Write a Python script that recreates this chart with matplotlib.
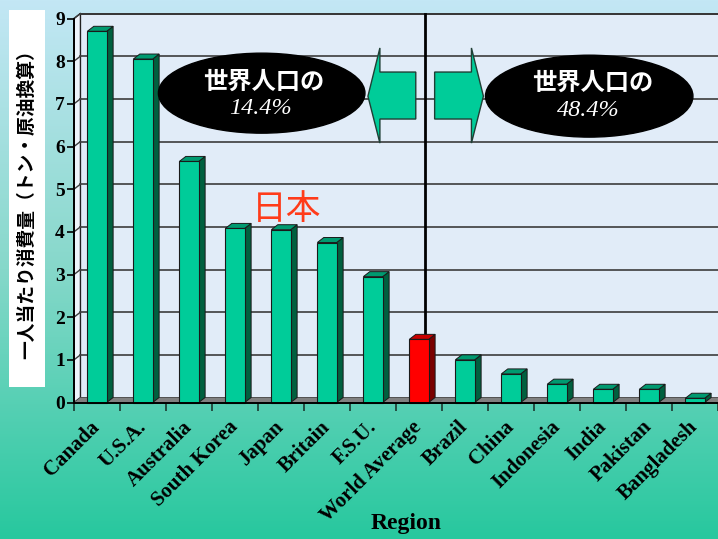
import numpy as np
import matplotlib
matplotlib.use("Agg")
import matplotlib.pyplot as plt
from matplotlib.patches import Polygon, Rectangle, Ellipse
from matplotlib.colors import LinearSegmentedColormap

# ---- data ----
regions = ["Canada", "U.S.A.", "Australia", "South Korea", "Japan", "Britain",
           "F.S.U.", "World Average", "Brazil", "China", "Indonesia", "India",
           "Pakistan", "Bangladesh"]
consumption = [8.7, 8.05, 5.65, 4.08, 4.05, 3.75, 2.95, 1.48, 1.0, 0.67,
               0.43, 0.31, 0.31, 0.1]
highlight = "World Average"
y_ticks = list(range(10))
y_label = "一人当たり消費量（トン・原油換算）"
x_label = "Region"
share_title = "世界人口の"
share_left = "14.4%"
share_right = "48.4%"
japan_note = "日本"

# ---- figure / fonts ----
W, H = 718, 539
fig = plt.figure(figsize=(W / 100, H / 100), dpi=100)
CJK = ["Noto Sans CJK JP", "DejaVu Sans"]
SERIF = "Liberation Serif"

# slide background: light blue at the top fading into teal green
bg = fig.add_axes([0, 0, 1, 1], zorder=0)
grad = np.linspace(0, 1, 256).reshape(-1, 1)
cmap = LinearSegmentedColormap.from_list("bg", ["#c3e7f5", "#86d8ca", "#27c89e"])
bg.imshow(grad, aspect="auto", cmap=cmap, extent=[0, 1, 0, 1], origin="upper")
bg.axis("off")

# ---- main axes (front plane of the 3-D chart) ----
ax_left, ax_bottom, ax_w, ax_h = 74, 136.5, 644, 384
ax = fig.add_axes([ax_left / W, ax_bottom / H, ax_w / W, ax_h / H], zorder=2)
SX = 46.3                      # pixels per category
SY = ax_h / 9.0                # pixels per unit
x0 = -0.5
x1 = x0 + ax_w / SX
ax.set_xlim(x0, x1)
ax.set_ylim(0, 9)
ax.patch.set_visible(False)
for s in ("top", "right"):
    ax.spines[s].set_visible(False)
for s in ("left", "bottom"):
    ax.spines[s].set_color("black")
    ax.spines[s].set_linewidth(1.4)
    ax.spines[s].set_zorder(6)

DX = 6.5 / SX                  # depth offset of the 3-D box
DY = 5.0 / SY

# back wall
ax.add_patch(Rectangle((x0 + DX, DY), (x1 + 1) - (x0 + DX), 9, facecolor="#e1ecf8",
                       edgecolor="#222222", lw=1.4, clip_on=False, zorder=0))
# side wall
ax.add_patch(Polygon([(x0, 0), (x0, 9), (x0 + DX, 9 + DY), (x0 + DX, DY)],
                     closed=True, facecolor="#eef4fb", edgecolor="#222222",
                     lw=1.0, clip_on=False, zorder=0.5))
# gridlines on back and side walls
for k in y_ticks[1:]:
    ax.plot([x0 + DX, x1 + 1], [k + DY, k + DY], color="#3c3c3c", lw=1.2,
            clip_on=False, zorder=1)
    ax.plot([x0, x0 + DX], [k, k + DY], color="#3c3c3c", lw=1.0,
            clip_on=False, zorder=1)
# floor
ax.add_patch(Polygon([(x0, 0), (x1 + 1, 0), (x1 + 1 + DX, DY), (x0 + DX, DY)],
                     closed=True, facecolor="#808080", edgecolor="none",
                     clip_on=False, zorder=1.5))

# ---- 3-D bars ----
BW = 0.21
for i, (name, v) in enumerate(zip(regions, consumption)):
    if name == highlight:
        front, side, top = "#ff0000", "#7a0000", "#c80000"
    else:
        front, side, top = "#00cc99", "#00603f", "#009a70"
    ec = "#1a1a1a"
    ax.add_patch(Polygon([(i + BW, 0), (i + BW, v), (i + BW + DX, v + DY),
                          (i + BW + DX, DY)], closed=True, facecolor=side,
                         edgecolor=ec, lw=0.7, zorder=3, clip_on=False))
    ax.add_patch(Polygon([(i - BW, v), (i + BW, v), (i + BW + DX, v + DY),
                          (i - BW + DX, v + DY)], closed=True, facecolor=top,
                         edgecolor=ec, lw=0.7, zorder=3, clip_on=False))
    ax.add_patch(Rectangle((i - BW, 0), 2 * BW, v, facecolor=front,
                           edgecolor=ec, lw=0.8, zorder=3.5, clip_on=False))

# divider between the two groups, rising from the world-average bar
avg_val = consumption[regions.index(highlight)]
ax.plot([7.12, 7.12], [avg_val + DY * 0.6, 9 + DY], color="black", lw=2.0,
        zorder=2.5, clip_on=False)

# ---- ticks ----
ax.set_yticks(y_ticks)
ax.set_yticklabels([str(t) for t in y_ticks], fontfamily=SERIF,
                   fontweight="bold", fontsize=14)
ax.tick_params(axis="y", length=5, width=1.2, pad=1.5, direction="out")

ax.set_xticks(np.arange(len(regions)))
ax.set_xticklabels(regions, rotation=45, ha="right", va="center",
                   rotation_mode="anchor", fontfamily=SERIF,
                   fontweight="bold", fontsize=15)
ax.tick_params(axis="x", which="major", length=0, pad=15.5)
ax.set_xticks(np.concatenate(([x0], np.arange(len(regions)) + 0.5)), minor=True)
ax.tick_params(axis="x", which="minor", length=6, width=1.2, direction="out",
               color="#1a3a30")

fig.text(406 / W, 1 - 524 / H, x_label, ha="center", va="center",
         fontfamily=SERIF, fontweight="bold", fontsize=17)

# ---- y-axis title on a white strip ----
fig.patches.append(Rectangle((9 / W, 1 - 387 / H), 36 / W, 377 / H,
                             transform=fig.transFigure, facecolor="white",
                             edgecolor="none", zorder=1))
fig.text(27 / W, 1 - 200 / H, y_label, rotation=90, ha="center", va="center",
         family=CJK, fontweight="bold", fontsize=13.5, zorder=3)

# ---- population-share callouts ----
ax.add_patch(Ellipse((3.58, 7.25), 4.49, 1.875, facecolor="black",
                     edgecolor="black", zorder=4, clip_on=False))
ax.add_patch(Ellipse((10.70, 7.18), 4.51, 1.92, facecolor="black",
                     edgecolor="black", zorder=4, clip_on=False))
ax.text(3.62, 7.52, share_title, ha="center", va="center", color="white",
        family=CJK, fontweight="bold", fontsize=17.5, zorder=5)
ax.text(3.56, 6.90, share_left, ha="center", va="center", color="white",
        fontfamily=SERIF, fontstyle="italic", fontsize=17.5, zorder=5)
ax.text(10.77, 7.50, share_title, ha="center", va="center", color="white",
        family=CJK, fontweight="bold", fontsize=17.5, zorder=5)
ax.text(10.69, 6.84, share_right, ha="center", va="center", color="white",
        fontfamily=SERIF, fontstyle="italic", fontsize=17.5, zorder=5)

# arrows pointing outwards from the divider
left_arrow = [(5.89, 7.18), (6.15, 8.31), (6.15, 7.745), (6.93, 7.745),
              (6.93, 6.644), (6.15, 6.644), (6.15, 6.08)]
right_arrow = [(7.34, 7.745), (8.14, 7.745), (8.14, 8.31), (8.40, 7.18),
               (8.14, 6.08), (8.14, 6.644), (7.34, 6.644)]
for pts in (left_arrow, right_arrow):
    ax.add_patch(Polygon(pts, closed=True, facecolor="#00cc99",
                         edgecolor="#1f3f35", lw=1.0, zorder=4, clip_on=False))

ax.text(4.12, 4.53, japan_note, ha="center", va="center", color="#ff3b1a",
        family=CJK, fontsize=25, zorder=5)

fig.savefig("out.png", dpi=100)
